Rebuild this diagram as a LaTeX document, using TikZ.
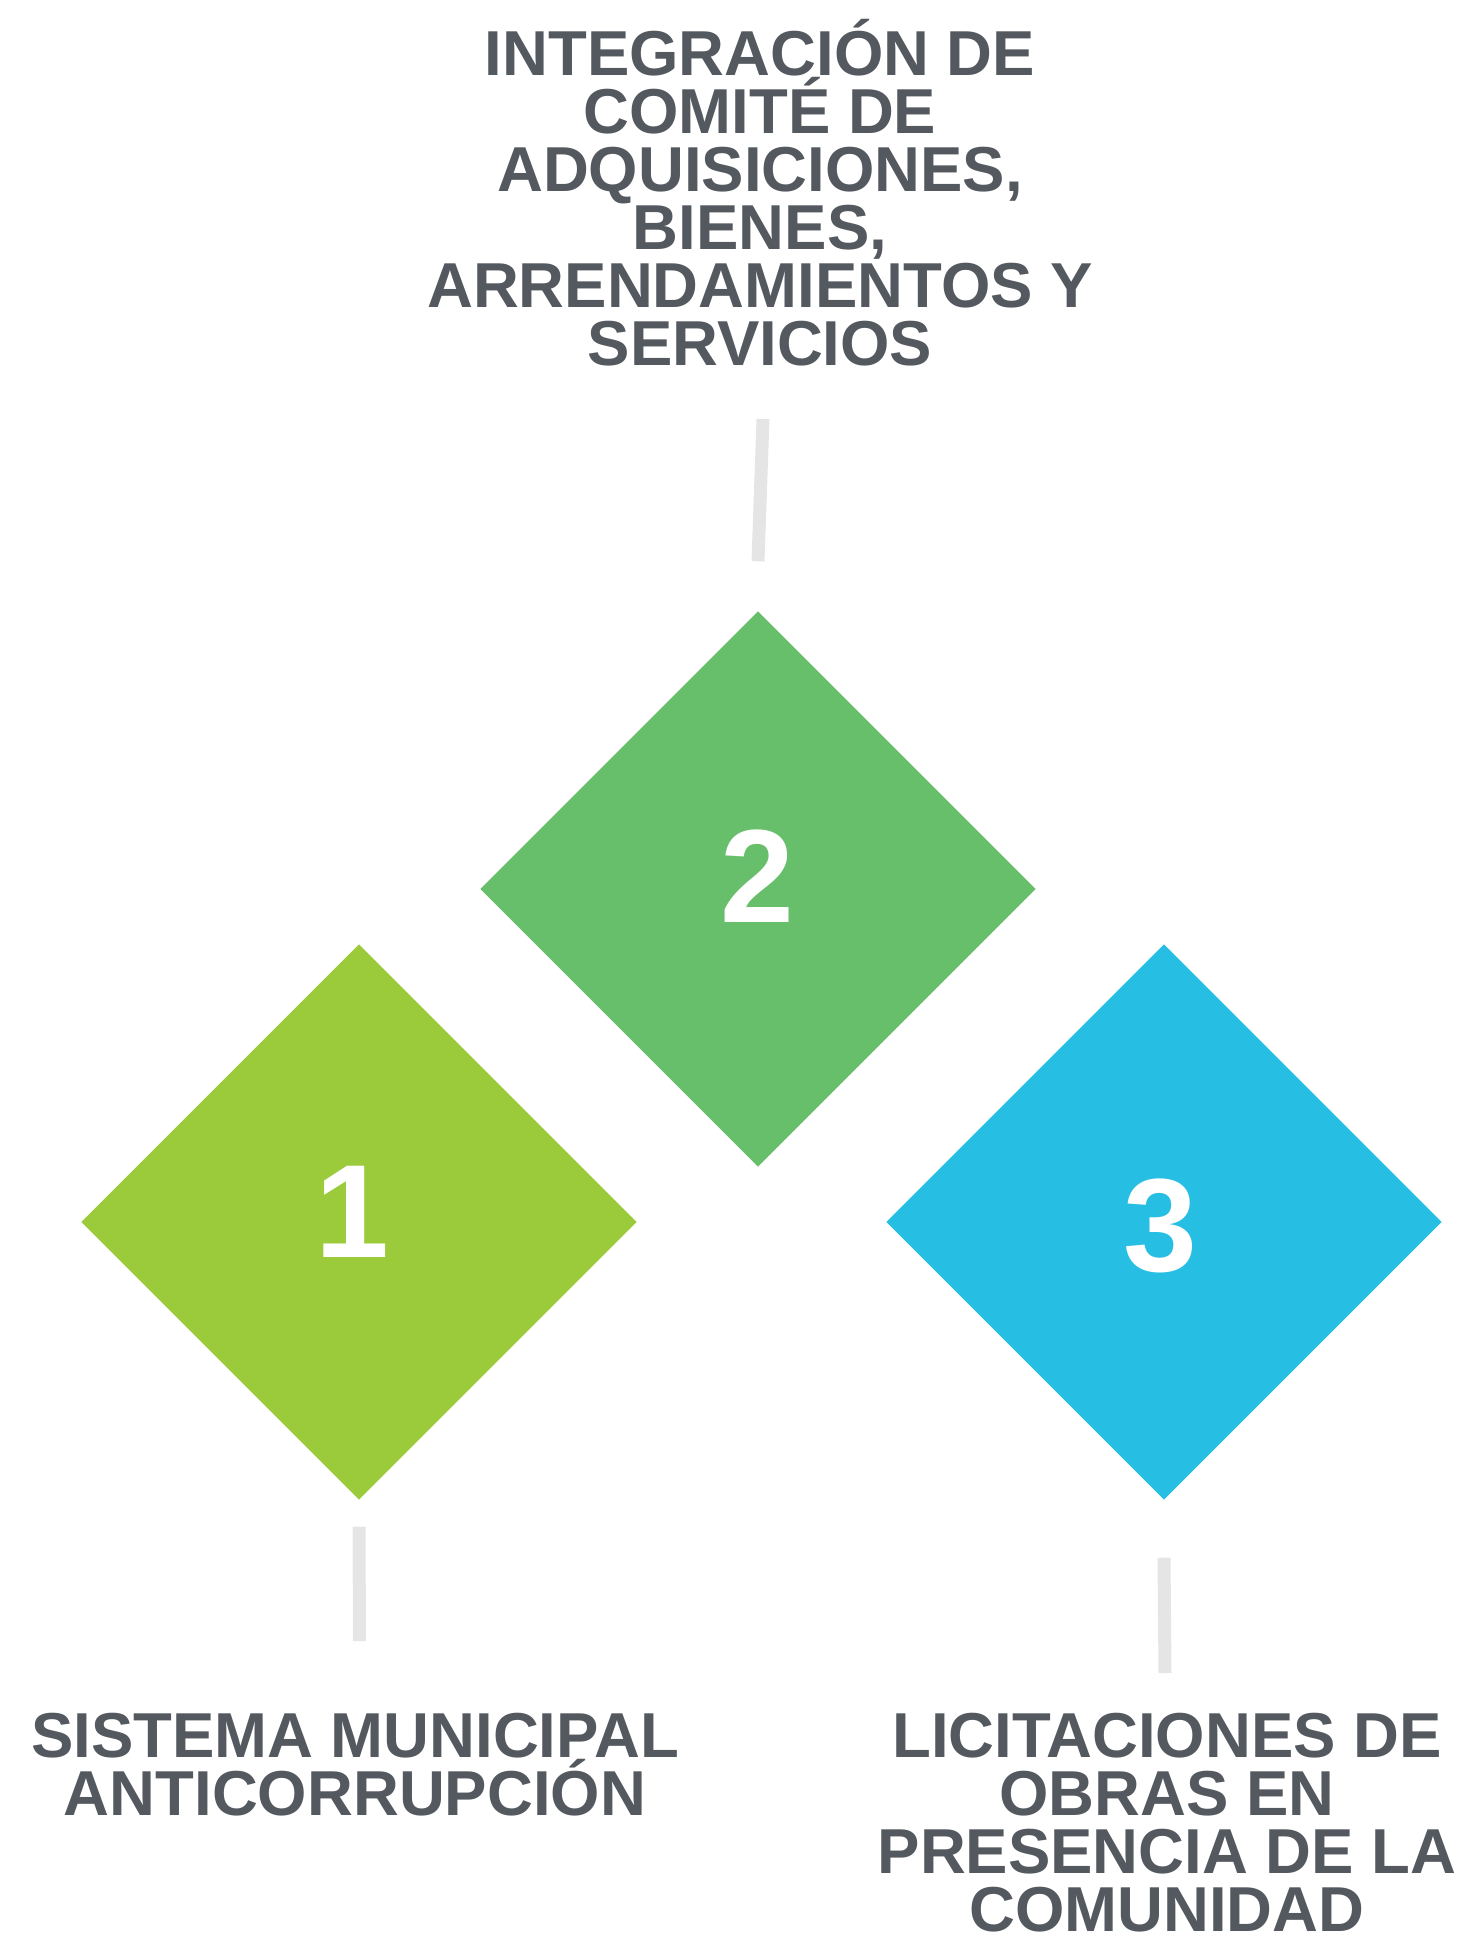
\documentclass[tikz,border=0pt]{standalone}
\usepackage{fontspec}
\setmainfont{Liberation Sans}
\usetikzlibrary{shapes.geometric}

\definecolor{txtgray}{HTML}{545960}
\definecolor{stemgray}{HTML}{E5E5E5}
\definecolor{verdeuno}{HTML}{9BCB3B}
\definecolor{verdedos}{HTML}{67BF6B}
\definecolor{azultres}{HTML}{26BFE3}

\begin{document}
\begin{tikzpicture}[x=0.1mm, y=-0.1mm,
		rombo/.style={diamond, aspect=1, minimum width=55.6mm, minimum height=55.6mm, inner sep=0pt},
		cifra/.style={text=white, inner sep=0pt, font=\bfseries\fontsize{13.27mm}{13.27mm}\selectfont},
		rotulo/.style={text=txtgray, align=center, inner sep=0pt, font=\bfseries\fontsize{6.35mm}{5.8mm}\selectfont},
		stem/.style={draw=stemgray, line width=1.3mm}]
				\useasboundingbox (0,0) rectangle (1470,1940);

				% diamonds
				\node[rombo, fill=verdeuno] (d1) at (359,1222) {};
				\node[rombo, fill=verdedos] (d2) at (758,889) {};
				\node[rombo, fill=azultres] (d3) at (1164,1222) {};

				\node[cifra] (n1) at (352,1212) {1};
				\node[cifra] (n2) at (757,876) {2};
				\node[cifra] (n3) at (1160,1226) {3};

				% labels
				\node[rotulo, anchor=south] (t2) at (760,367)
				{INTEGRACIÓN DE\\COMITÉ DE\\ADQUISICIONES,\\BIENES,\\ARRENDAMIENTOS Y\\SERVICIOS};
				\node[rotulo, anchor=north] (t1) at (355,1712)
				{SISTEMA MUNICIPAL\\ANTICORRUPCIÓN};
				\node[rotulo, anchor=north] (t3) at (1167,1712)
				{LICITACIONES DE\\OBRAS EN\\PRESENCIA DE LA\\COMUNIDAD};

				% stems
				\draw[stem] ([xshift=0.3mm,yshift=-5.2mm]t2.south) -- ([yshift=4.9mm]d2.north);
				\draw[stem] ([yshift=-2.6mm]d1.south) -- ([xshift=0.45mm,yshift=7.1mm]t1.north);
				\draw[stem] ([yshift=-5.7mm]d3.south) -- ([xshift=-0.2mm,yshift=3.9mm]t3.north);
			\end{tikzpicture}
\end{document}
